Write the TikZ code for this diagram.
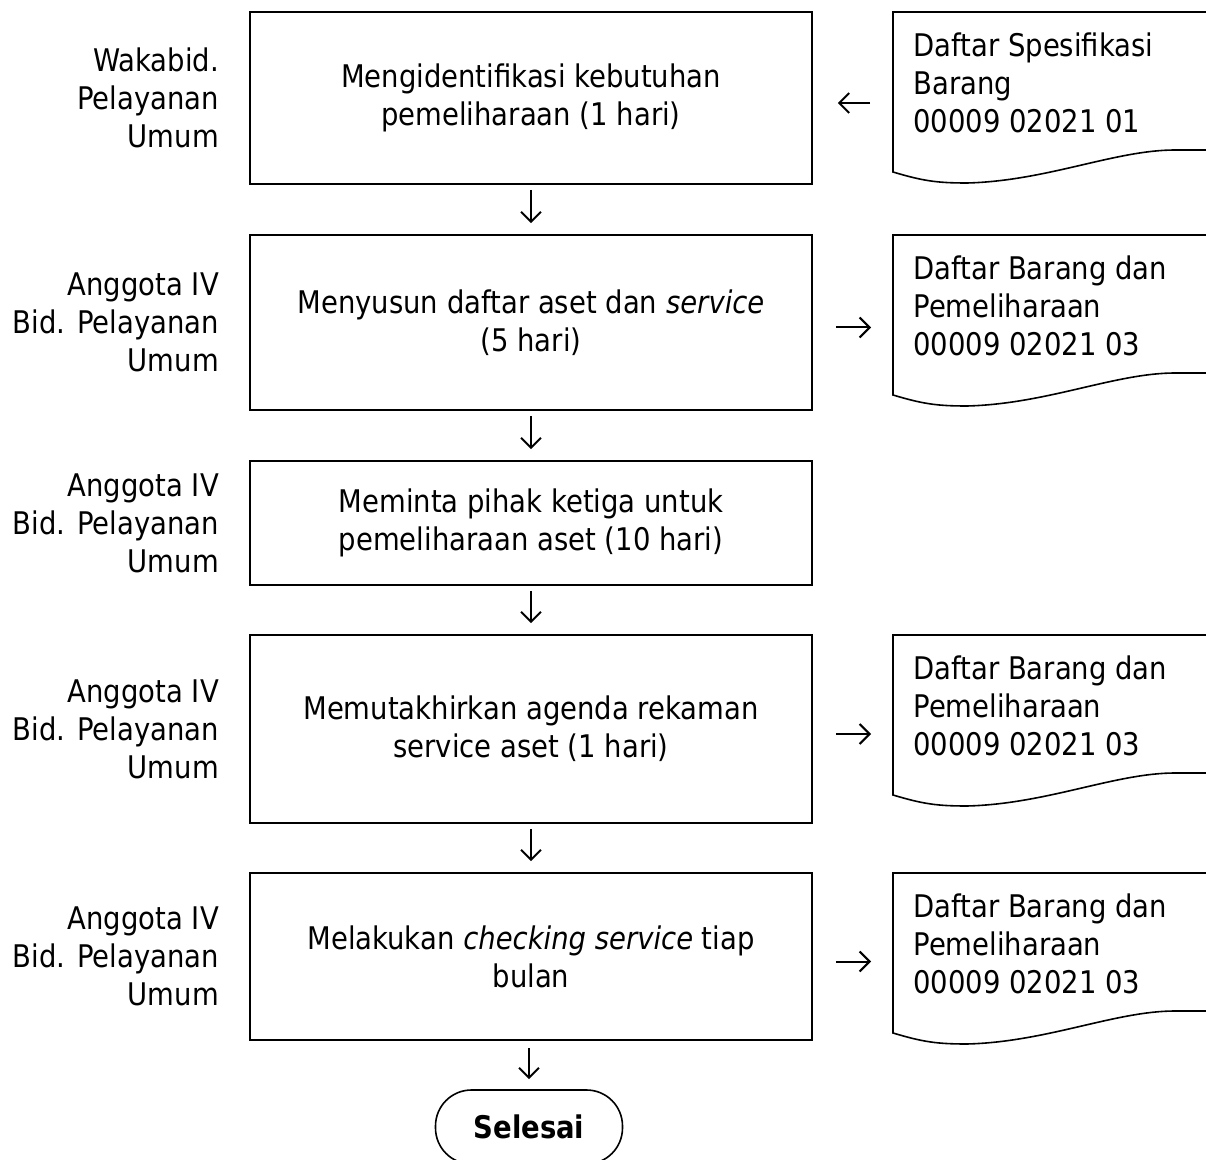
\documentclass[tikz,border=0pt]{standalone}
\usepackage{fontspec}
\setmainfont{DejaVu Sans}[FakeStretch=0.88]
\usetikzlibrary{positioning,calc,arrows.meta}

\tikzset{
  box/.style={draw, line width=0.8pt, minimum width=281pt, align=center, inner sep=0pt},
  lane/.style={align=right, inner sep=0pt},
  doc/.style={anchor=north west, align=left, inner xsep=10pt, inner ysep=10pt},
  flow/.style={-{Straight Barb[length=5pt,width=10pt]}, line width=1pt},
  terminal/.style={draw, line width=0.8pt, rounded corners=18pt, minimum width=93.5pt, minimum height=37pt,
    font=\fontsize{15.6pt}{19pt}\selectfont\bfseries},
}

\begin{document}
\begin{tikzpicture}[x=0.5pt, y=-0.5pt, font=\fontsize{15.6pt}{19pt}\selectfont]
      \path[use as bounding box] (0,0) rectangle (1206,1160);
      \clip (0,0) rectangle (1206,1160);

      % steps
      \node (b1) [box, minimum height=86pt]   at (531,98)    {Mengidentifikasi kebutuhan\\pemeliharaan (1 hari)};
      \node (b2) [box, minimum height=87.5pt] at (531,322.5) {Menyusun daftar aset dan \textit{service}\\(5 hari)};
      \node (b3) [box, minimum height=62pt]   at (531,523)   {Meminta pihak ketiga untuk\\pemeliharaan aset (10 hari)};
      \node (b4) [box, minimum height=94pt]   at (531,729)   {Memutakhirkan agenda rekaman\\service aset (1 hari)};
      \node (b5) [box, minimum height=83.5pt] at (531,956.5) {Melakukan \textit{checking service} tiap\\bulan};
      \node (end) [terminal] at (529,1127) {Selesai};

      % who does it
      \node (l1) [lane, left=15pt of b1] {Wakabid.\\Pelayanan\\Umum};
      \node (l2) [lane, left=15pt of b2] {Anggota IV\\Bid. Pelayanan\\Umum};
      \node (l3) [lane, left=15pt of b3] {Anggota IV\\Bid. Pelayanan\\Umum};
      \node (l4) [lane, left=15pt of b4] {Anggota IV\\Bid. Pelayanan\\Umum};
      \node (l5) [lane, left=15pt of b5] {Anggota IV\\Bid. Pelayanan\\Umum};

      % documents
      \node (d1) [doc] at (893,12)  {Daftar Spesifikasi\\Barang\\00009 02021 01};
      \node (d2) [doc] at (893,235) {Daftar Barang dan\\Pemeliharaan\\00009 02021 03};
      \node (d4) [doc] at (893,635) {Daftar Barang dan\\Pemeliharaan\\00009 02021 03};
      \node (d5) [doc] at (893,873) {Daftar Barang dan\\Pemeliharaan\\00009 02021 03};
      \foreach \d in {d1,d2,d4,d5}
        \draw [line width=0.8pt] ($(\d.north west)+(400,0)$) -- (\d.north west) -- ++(0,160)
          .. controls +(30,9) and +(-30,0) .. ++(74,11)
          .. controls +(80,-2) and +(-60,0) .. ++(208,-33) -- ++(100,0);

      \draw [flow, shorten <=2.5pt, shorten >=5.5pt] (b1) -- (b2);
      \draw [flow, shorten <=2.5pt, shorten >=5.5pt] (b2) -- (b3);
      \draw [flow, shorten <=2.5pt, shorten >=5.5pt] (b3) -- (b4);
      \draw [flow, shorten <=2.5pt, shorten >=5.5pt] (b4) -- (b5);
      \draw [flow, shorten <=3.5pt, shorten >=5pt] (b5.south -| end) -- (end);

      \draw [flow, shorten <=11.5pt, shorten >=12.5pt] ($(d1.west |- b1.east)+(0,5)$) -- ($(b1.east)+(0,5)$);
      \draw [flow, shorten <=11.5pt, shorten >=11pt] ($(b2.east)+(0,5)$) -- ($(d2.west |- b2.east)+(0,5)$);
      \draw [flow, shorten <=11.5pt, shorten >=11pt] ($(b4.east)+(0,5)$) -- ($(d4.west |- b4.east)+(0,5)$);
      \draw [flow, shorten <=11.5pt, shorten >=11pt] ($(b5.east)+(0,5)$) -- ($(d5.west |- b5.east)+(0,5)$);
    \end{tikzpicture}
\end{document}
